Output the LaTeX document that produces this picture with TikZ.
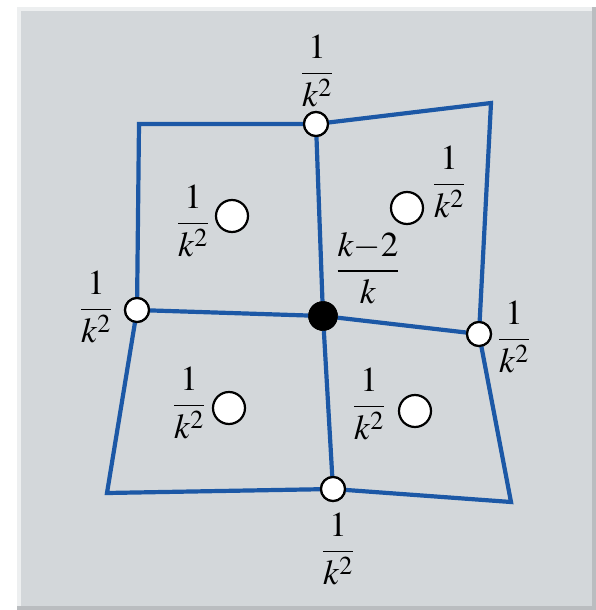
\documentclass[tikz,border=0pt]{standalone}
\usepackage{amsmath}
\usepackage{mathptmx}
\usepackage{tikz}
\definecolor{meshblue}{RGB}{28,88,166}
\definecolor{panelgray}{RGB}{211,215,218}

\begin{document}
\begin{tikzpicture}[x=1pt, y=-1pt,
  edge/.style={draw=meshblue, line width=4.2pt, line join=miter},
  vtx/.style={draw, circle, fill=white, line width=2.2pt, minimum size=24pt, inner sep=0pt},
  face/.style={draw, circle, fill=white, line width=2.2pt, minimum size=32pt, inner sep=0pt},
  ctr/.style={draw, circle, fill=black, minimum size=29pt, inner sep=0pt},
  wt/.style={inner sep=0pt, font=\fontsize{35}{42}\selectfont}]
  \useasboundingbox (0,0) rectangle (596,610);
  % panel
  \fill[panelgray] (17,7) rectangle (596,610);
  \draw[white!60!panelgray, line width=4pt] (19,610) -- (19,9) -- (596,9);
  \draw[black!12!panelgray, line width=4pt] (17,608) -- (594,608) -- (594,7);

  % mesh corners and vertices
  \coordinate (tl) at (139,124);
  \coordinate (tr) at (491,103);
  \coordinate (br) at (511,502);
  \coordinate (bl) at (107,493);
  \node[vtx] (t) at (316,124) {};
  \node[vtx] (r) at (479,334) {};
  \node[vtx] (b) at (333,489) {};
  \node[vtx] (l) at (137,310) {};
  \node[ctr] (c) at (323,316) {};

  \path[edge] (tl) -- (t.center) -- (tr) -- (r.center) -- (br) -- (b.center) -- (bl) -- (l.center) -- cycle;
  \path[edge] (t) -- (c) -- (b);
  \path[edge] (l) -- (c) -- (r);
  \node[vtx] at (t) {};
  \node[vtx] at (r) {};
  \node[vtx] at (b) {};
  \node[vtx] at (l) {};
  \node[ctr] at (c) {};

  % face centres
  \node[face] (f1) at (232,216) {};
  \node[face] (f2) at (407,208) {};
  \node[face] (f3) at (229,408) {};
  \node[face] (f4) at (415,411) {};

  % weights
  \node[wt] (wt) at (317,71) {$\dfrac{1}{k^2}$};
  \node[wt] (wr) at (514,337) {$\dfrac{1}{k^2}$};
  \node[wt] (wb) at (338,549) {$\dfrac{1}{k^2}$};
  \node[wt] (wl) at (96,307) {$\dfrac{1}{k^2}$};
  \node[wt] (wf1) at (193,221) {$\dfrac{1}{k^2}$};
  \node[wt] (wf2) at (449,182) {$\dfrac{1}{k^2}$};
  \node[wt] (wf3) at (189,403) {$\dfrac{1}{k^2}$};
  \node[wt] (wf4) at (369,404) {$\dfrac{1}{k^2}$};
  \node[wt] (wc) at (368,268) {$\dfrac{k{-}2}{k}$};
\end{tikzpicture}
\end{document}
